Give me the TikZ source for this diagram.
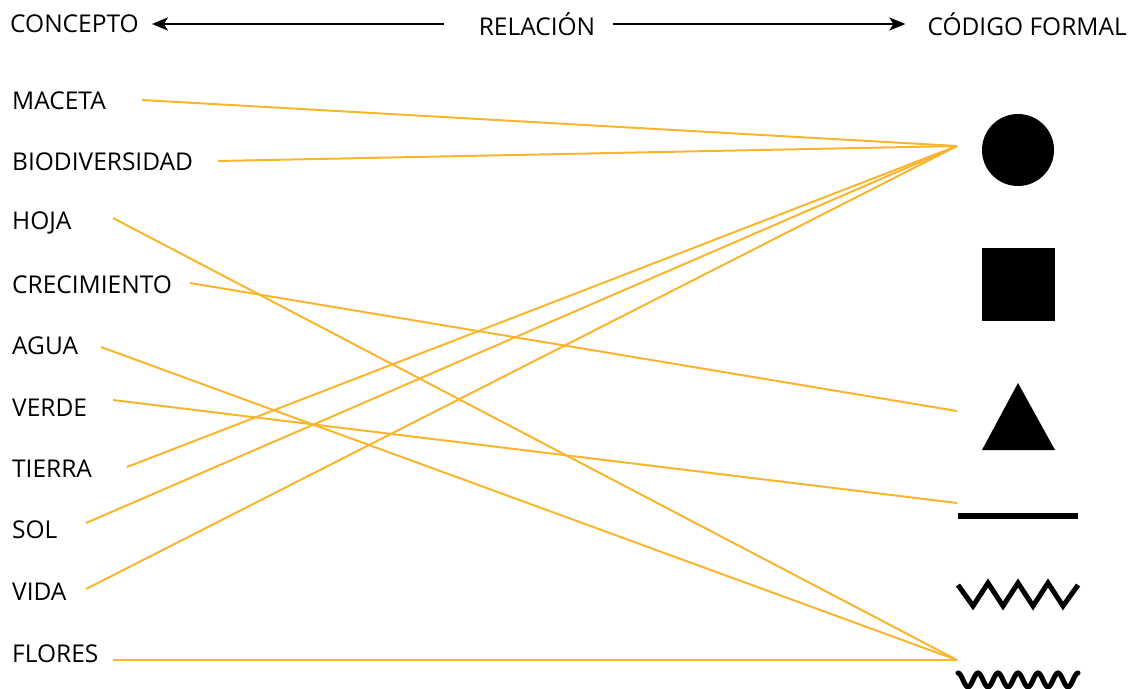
\documentclass[tikz,border=0pt]{standalone}
\usepackage{fontspec}
\setmainfont{Open Sans}
\usetikzlibrary{arrows.meta}

\begin{document}
\begin{tikzpicture}[x=1pt,y=-1pt,
        label/.style={anchor=west, inner sep=0pt, font=\fontsize{24.5}{28}\selectfont},
        head/.style={inner sep=0pt, font=\fontsize{24.5}{28}\selectfont},
        link/.style={draw={rgb,255:red,249;green,181;blue,45}, line width=2pt}]
        \useasboundingbox (0,0) rectangle (1132,688);

        % cabecera
        \node[head, anchor=west] (concepto) at (10,24) {CONCEPTO};
        \node[head] (relacion) at (537,24) {RELACIÓN};
        \node[head, anchor=east] (codigo) at (1127,24) {CÓDIGO FORMAL};
        \draw[line width=2.5pt, -{Stealth[length=16pt, width=13pt, inset=4pt]}, shorten <=35pt, shorten >=13pt] (relacion.west) -- (concepto.east);
        \draw[line width=2.5pt, -{Stealth[length=16pt, width=13pt, inset=4pt]}, shorten <=18pt, shorten >=22pt] (relacion.east) -- (codigo.west);

        % conceptos
        \node[label] (maceta) at (12,101) {MACETA};
        \node[label] (biodiv) at (12,162) {BIODIVERSIDAD};
        \node[label] (hoja) at (12,223) {HOJA};
        \node[label] (crec) at (12,285) {CRECIMIENTO};
        \node[label] (agua) at (12,346) {AGUA};
        \node[label] (verde) at (12,408) {VERDE};
        \node[label] (tierra) at (12,469) {TIERRA};
        \node[label] (sol) at (12,530) {SOL};
        \node[label] (vida) at (12,592) {VIDA};
        \node[label] (flores) at (12,654) {FLORES};

        % puntos de salida
        \coordinate (maceta-o) at (142,100);
        \coordinate (biodiv-o) at (218,161);
        \coordinate (hoja-o) at (113,218);
        \coordinate (crec-o) at (190,283);
        \coordinate (agua-o) at (101,347);
        \coordinate (verde-o) at (113,400);
        \coordinate (tierra-o) at (127,467);
        \coordinate (sol-o) at (86,523);
        \coordinate (vida-o) at (86,589);
        \coordinate (flores-o) at (113,660);

        % codigos formales
        \fill (1018,150) circle [radius=36];
        \fill (982,248) rectangle (1055,321);
        \fill (1018,383) -- (1055,450) -- (982,450) -- cycle;
        \draw[line width=6pt] (958,516) -- (1078,516);
        \draw[line width=5pt, line join=miter] (958,585) -- (973,606) -- (988,583) -- (1003,606) -- (1018,583)
                 -- (1033,606) -- (1048,583) -- (1063,606) -- (1078,585);
        \draw[line width=5pt, line cap=round] plot[domain=0:120, samples=121, smooth] ({958+\x},{680-7*cos(18*\x)});

        \coordinate (circulo) at (957,146);
        \coordinate (triangulo) at (957,411);
        \coordinate (linea) at (957,503);
        \coordinate (onda) at (957,660);

        % relaciones
        \draw[link] (maceta-o) -- (circulo);
        \draw[link] (biodiv-o) -- (circulo);
        \draw[link] (tierra-o) -- (circulo);
        \draw[link] (sol-o) -- (circulo);
        \draw[link] (vida-o) -- (circulo);
        \draw[link] (crec-o) -- (triangulo);
        \draw[link] (verde-o) -- (linea);
        \draw[link] (hoja-o) -- (onda);
        \draw[link] (agua-o) -- (onda);
        \draw[link] (flores-o) -- (onda);
\end{tikzpicture}
\end{document}
